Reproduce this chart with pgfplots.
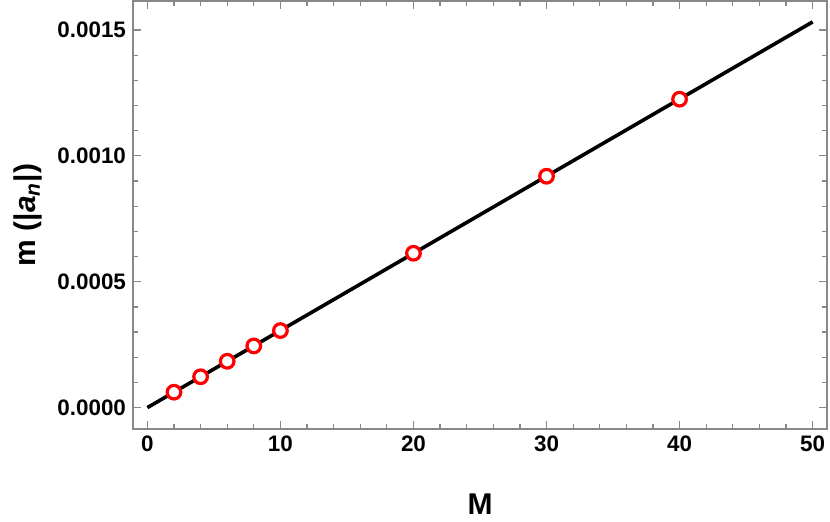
\documentclass[border=0pt]{standalone}
\usepackage{fontspec}
\setmainfont{Liberation Sans}
\usepackage{pgfplots}
\pgfplotsset{compat=1.18}
\usetikzlibrary{calc}
\definecolor{framegray}{RGB}{136,136,136}
\begin{document}
\begin{tikzpicture}
\begin{axis}[
    scale only axis,
    width=347pt, height=214pt,
    xmin=-1.08, xmax=51.08,
    ymin=-0.000085, ymax=0.001615,
    axis line style={framegray, line width=0.6pt},
    every tick/.style={framegray, line width=0.6pt},
    major tick length=4pt, minor tick length=2.5pt,
    tick pos=both, tick align=inside,
    xtick={0,10,...,50}, minor x tick num=4,
    ytick={0,0.0005,0.001,0.0015}, minor y tick num=4,
    xticklabel pos=lower, yticklabel pos=left,
    scaled y ticks=false,
    yticklabel style={/pgf/number format/.cd, fixed, fixed zerofill, precision=4, assume math mode=true},
    xticklabel style={/pgf/number format/assume math mode=true},
    ticklabel style={font=\fontsize{11.2}{13}\selectfont\bfseries},
    xlabel={\textbf{M}},
    ylabel={\textbf{m (|\textit{a}\textsubscript{\textit{n}}|)}},
    label style={font=\fontsize{15}{17}\selectfont},
    xlabel style={at={(rel axis cs:0.5,0)}, anchor=center, yshift=-37.5pt},
    ylabel style={at={(rel axis cs:0,0.5)}, anchor=center, yshift=52.5pt},
]
\addplot[black, line width=1.8pt] coordinates {(0,0) (50,0.001532)};
\addplot[only marks, mark=*, mark size=3.4pt,
    mark options={draw=red, fill=white, line width=1.6pt}] coordinates {
    (2,0.0000612) (4,0.0001225) (6,0.000184) (8,0.000245) (10,0.000306)
    (20,0.000613) (30,0.000919) (40,0.001225)
};
\end{axis}
\pgfresetboundingbox
\path[use as bounding box] ($(current axis.south west)+(-66.5pt,-46pt)$) rectangle ($(current axis.north east)+(1.5pt,0.5pt)$);
\end{tikzpicture}
\end{document}
